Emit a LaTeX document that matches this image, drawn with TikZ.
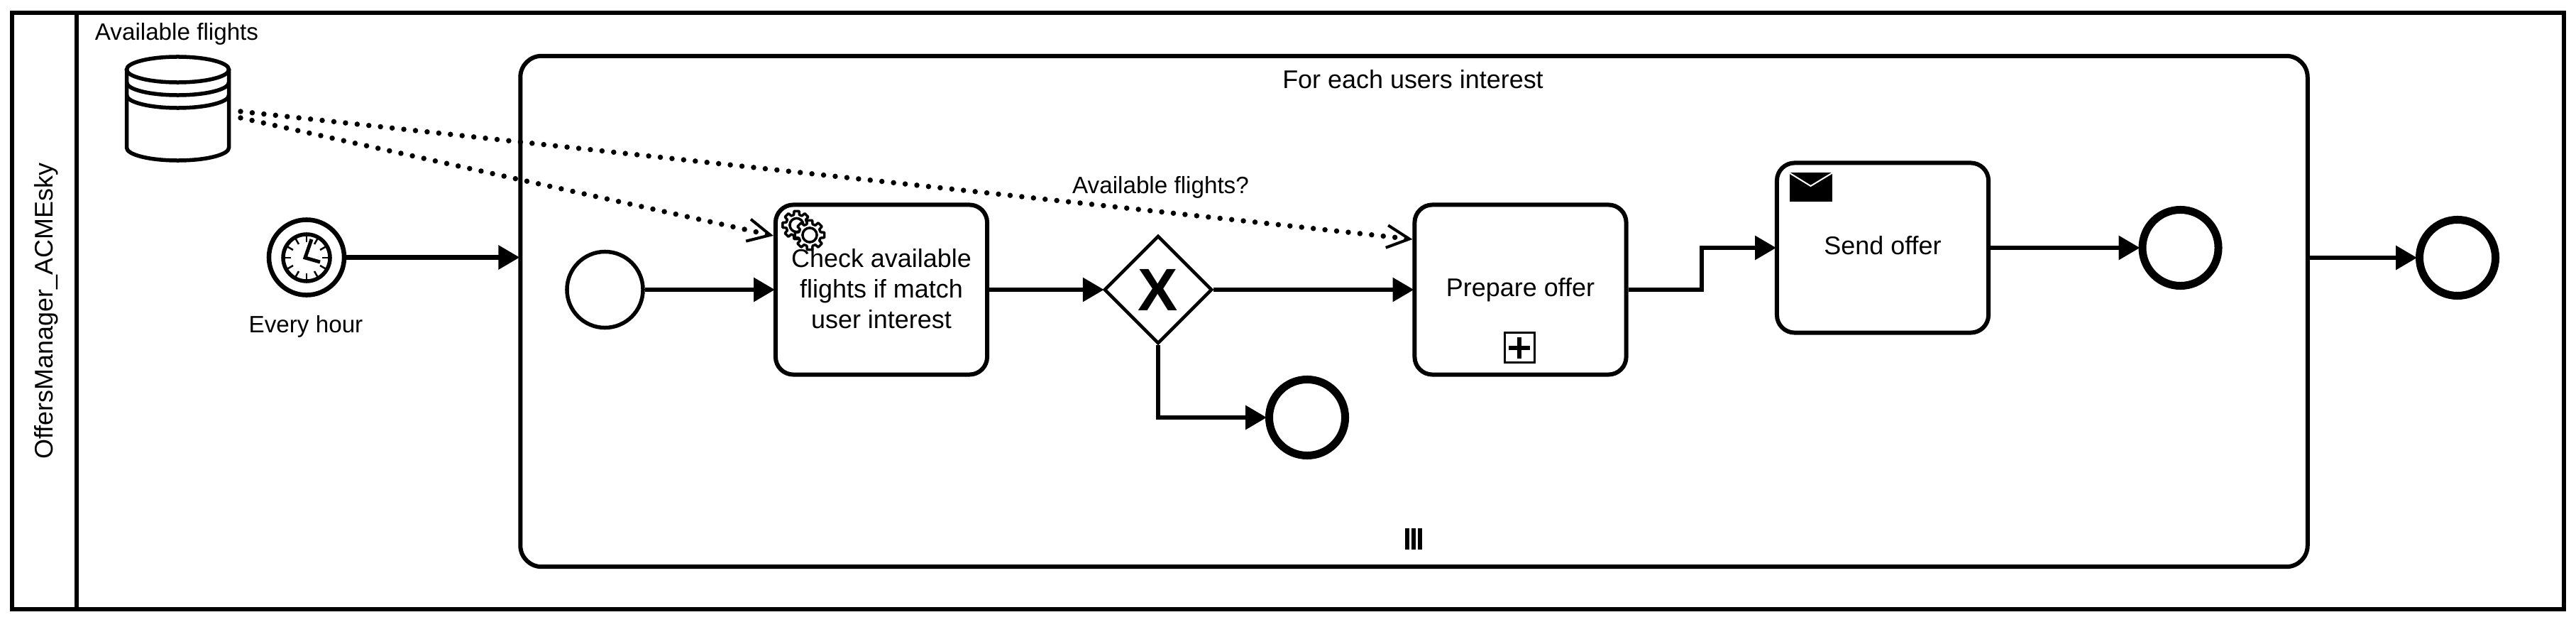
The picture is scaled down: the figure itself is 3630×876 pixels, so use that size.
\documentclass[tikz,border=0pt]{standalone}
\usepackage{fontspec}
\setmainfont{Liberation Sans}
\usetikzlibrary{shapes,arrows.meta,positioning,calc}
\tikzset{
    flow/.style={line width=0.06cm, shorten >=-0.02cm, -{Triangle[length=8.5pt,width=9.4pt]}},
    assoc/.style={line width=0.075cm, line cap=round, dash pattern=on 0pt off 4.7pt, -{Straight Barb[length=9pt,width=9pt,line width=1.15pt]}},
    poolbox/.style={draw, line width=0.06cm, minimum width=35.94cm, minimum height=8.4cm, inner sep=0pt},
    subbox/.style={draw, line width=0.06cm, rounded corners=0.3cm, minimum width=25.17cm, minimum height=7.19cm, inner sep=0pt},
    taskbox/.style={draw, line width=0.06cm, rounded corners=0.25cm, minimum width=2.98cm, minimum height=2.39cm, inner sep=0pt, align=center, font=\fontsize{10.22}{12.2}\selectfont},
    startevent/.style={draw, circle, line width=0.055cm, minimum size=1.07cm, inner sep=0pt},
    timerevent/.style={draw, circle, line width=0.065cm, minimum size=1.06cm, inner sep=0pt},
    endevent/.style={draw, circle, line width=0.11cm, minimum size=1.07cm, inner sep=0pt},
    gatebox/.style={draw, diamond, aspect=1, line width=0.045cm, minimum size=1.52cm, inner sep=0pt, font=\fontsize{24}{24}\selectfont\bfseries},
    storebox/.style={minimum width=1.5cm, minimum height=1.52cm, inner sep=0pt},
    smalltext/.style={inner sep=0pt, font=\fontsize{9.45}{11}\selectfont},
    bigtext/.style={inner sep=0pt, font=\fontsize{10.22}{12}\selectfont}
}
\newcommand{\gearicon}[3]{
    \begin{scope}[shift={(#1,#2)}]
        \draw[line width=0.035cm, fill=white, line join=round] (-10:#3)
            \foreach \a in {0,45,...,315} { -- (\a-10:#3) -- (\a+10:#3) -- (\a+15:0.75*#3) -- (\a+30:0.75*#3) } -- cycle;
        \draw[line width=0.035cm] (0,0) circle (0.48*#3);
    \end{scope}
}
\begin{document}
\begin{tikzpicture}[x=0.01cm, y=-0.01cm]
    \path[use as bounding box] (0,0) rectangle (3630,876);

    % Pool
    \node[poolbox] (pool) at (1815,438) {};
    \coordinate (dividertop) at (108,18);
    \coordinate (dividerbottom) at (108,858);
    \draw[line width=0.06cm] (dividertop) -- (dividerbottom);
    \node[bigtext, rotate=90] (lanelabel) at (65,438) {OffersManager\_ACMEsky};

    % Data store
    \node[storebox] (flights) at (250.5,153) {};
    \node[smalltext] (flightslabel) at (249,48) {Available flights};
    \draw[line width=0.055cm, line join=round] (178.5,98) -- (178.5,208) arc[x radius=0.72cm, y radius=0.18cm, start angle=180, end angle=360] -- (322.5,98);
    \draw[line width=0.055cm] (250.5,98) ellipse[x radius=0.72cm, y radius=0.18cm];
    \draw[line width=0.055cm] (178.5,116) arc[x radius=0.72cm, y radius=0.18cm, start angle=180, end angle=360];
    \draw[line width=0.055cm] (178.5,134) arc[x radius=0.72cm, y radius=0.18cm, start angle=180, end angle=360];
    \coordinate (flightsa) at (339,157);
    \coordinate (flightsb) at (339,166);

    % Timer
    \node[timerevent] (timer) at (432,362.5) {};
    \node[smalltext] (timerlabel) at (431,459.5) {Every hour};
    \begin{scope}[shift={(432,363)}]
        \draw[line width=0.055cm] (0,0) circle (0.33cm);
        \foreach \t in {0,30,...,330}
            \draw[line width=0.025cm] (\t:22) -- (\t:32);
        \draw[line width=0.05cm] (7,-26) -- (-2,0) -- (19,6);
    \end{scope}

    % Subprocess
    \node[subbox] (sub) at (1992.5,438.5) {};
    \node[bigtext] (sublabel) at (1991,111.5) {For each users interest};
    \foreach \x in {1983,1992,2001}
        \fill (\x-3,744) rectangle (\x+3,774);

    \node[startevent] (start) at (852.5,408) {};
    \node[taskbox] (check) at (1242,408) {};
    \gearicon{1122.5}{317}{20}
    \gearicon{1141}{331}{21}
    \node[taskbox, draw=none, fill=none] (checktext) at (1242,407) {Check available\\flights if match\\user interest};
    \node[gatebox] (gateway) at (1632,408) {X};
    \node[endevent] (endreject) at (1842,588) {};
    \node[taskbox] (prepare) at (2142.5,408) {Prepare offer};
    \node[draw, line width=0.03cm, minimum width=0.42cm, minimum height=0.42cm, inner sep=0pt] (plusbox) at (2141,489.5) {};
    \draw[line width=0.06cm] (plusbox.center) ++(-15,0) -- ++(30,0);
    \draw[line width=0.06cm] (plusbox.center) ++(0,-15) -- ++(0,30);
    \node[taskbox, text depth=0.21em] (send) at (2653,349) {Send offer};
    \fill (2521.5,243.5) rectangle (2582,283.5);
    \draw[white, line width=0.02cm] (2521.5,243.5) -- (2551.5,262) -- (2582,243.5);
    \node[endevent] (endsend) at (3072.5,349) {};
    \node[endevent] (endfinal) at (3463,363) {};

    % Associations
    \coordinate (checkin) at (check.west |- 0,332);
    \coordinate (preparein) at (prepare.west |- 0,337);
    \draw[assoc] (flightsb) -- (checkin);
    \draw[assoc] (flightsa) -- (preparein);
    \node[smalltext] (assoclabel) at (1635.5,264) {Available flights?};

    % Arrows
    \coordinate (elbow) at (2398,380);
    \draw[flow] (timer) -- (sub.west |- timer);
    \draw[flow] (start) -- (check);
    \draw[flow] (check) -- (gateway);
    \draw[flow] (gateway) -- (prepare);
    \draw[flow] (gateway.south) |- (endreject.west);
    \draw[flow] (prepare.east) -| (elbow) |- (send.west);
    \draw[flow] (send) -- (endsend);
    \draw[flow] (sub.east |- endfinal) -- (endfinal);
\end{tikzpicture}
\end{document}
